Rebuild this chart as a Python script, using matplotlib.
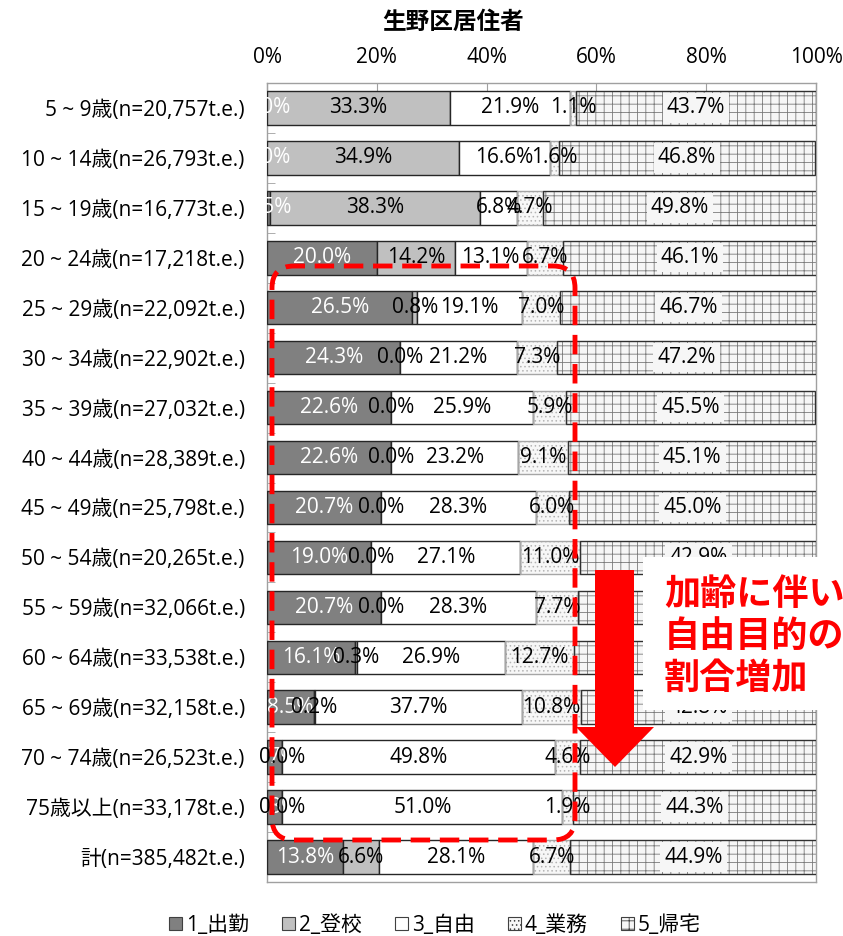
import matplotlib
matplotlib.use("Agg")
import matplotlib.pyplot as plt
import numpy as np
from matplotlib.patches import Patch, FancyBboxPatch, Polygon, Rectangle

plt.rcParams['font.family'] = ['Open Sans', 'Noto Sans CJK JP', 'DejaVu Sans']
plt.rcParams['hatch.linewidth'] = 0.6

categories = ["5 ~ 9歳(n=20,757t.e.)", "10 ~ 14歳(n=26,793t.e.)", "15 ~ 19歳(n=16,773t.e.)",
              "20 ~ 24歳(n=17,218t.e.)", "25 ~ 29歳(n=22,092t.e.)", "30 ~ 34歳(n=22,902t.e.)",
              "35 ~ 39歳(n=27,032t.e.)", "40 ~ 44歳(n=28,389t.e.)", "45 ~ 49歳(n=25,798t.e.)",
              "50 ~ 54歳(n=20,265t.e.)", "55 ~ 59歳(n=32,066t.e.)", "60 ~ 64歳(n=33,538t.e.)",
              "65 ~ 69歳(n=32,158t.e.)", "70 ~ 74歳(n=26,523t.e.)", "75歳以上(n=33,178t.e.)",
              "計(n=385,482t.e.)"]
series_names = ["1_出勤", "2_登校", "3_自由", "4_業務", "5_帰宅"]
shukkin = [0.0, 0.0, 0.5, 20.0, 26.5, 24.3, 22.6, 22.6, 20.7, 19.0, 20.7, 16.1, 8.5, 2.7, 2.8, 13.8]
toukou = [33.3, 34.9, 38.3, 14.2, 0.8, 0.0, 0.0, 0.0, 0.0, 0.0, 0.0, 0.3, 0.2, 0.0, 0.0, 6.6]
jiyuu = [21.9, 16.6, 6.8, 13.1, 19.1, 21.2, 25.9, 23.2, 28.3, 27.1, 28.3, 26.9, 37.7, 49.8, 51.0, 28.1]
gyoumu = [1.1, 1.6, 4.7, 6.7, 7.0, 7.3, 5.9, 9.1, 6.0, 11.0, 7.7, 12.7, 10.8, 4.6, 1.9, 6.7]
kitaku = [43.7, 46.8, 49.8, 46.1, 46.7, 47.2, 45.5, 45.1, 45.0, 42.9, 43.3, 44.0, 42.8, 42.9, 44.3, 44.9]
xticks = [0, 20, 40, 60, 80, 100]
title = "生野区居住者"
note_lines = ["加齢に伴い", "自由目的の", "割合増加"]

W, H = 843, 936
fig = plt.figure(figsize=(W / 100, H / 100), dpi=100)
ax = fig.add_axes([267 / W, 1 - 882 / H, (816 - 267) / W, (882 - 83) / H])

series = [shukkin, toukou, jiyuu, gyoumu, kitaku]
styles = [
    dict(fc="#808080", hatch=None, hc=None, ec="#262626"),
    dict(fc="#c0c0c0", hatch=None, hc=None, ec="#262626"),
    dict(fc="#ffffff", hatch=None, hc=None, ec="#262626"),
    dict(fc="#f7f7f7", hatch="....", hc="#b4b4b4", ec="#a6a6a6"),
    dict(fc="#f6f6f6", hatch="++", hc="#7a7a7a", ec="#303030"),
]
label_colors = ["white", "black", "black", "black", "black"]
FS = 15

y = np.arange(len(categories))
left = np.zeros(len(categories))
bh = 0.67
for vals, st, lc in zip(series, styles, label_colors):
    vals = np.array(vals)
    if st["hatch"]:
        ax.barh(y, vals, left=left, height=bh, color=st["fc"], hatch=st["hatch"],
                edgecolor=st["hc"], linewidth=0, zorder=2)
        ax.barh(y, vals, left=left, height=bh, fill=False, edgecolor=st["ec"],
                linewidth=1.0, zorder=3)
    else:
        ax.barh(y, vals, left=left, height=bh, color=st["fc"], edgecolor=st["ec"],
                linewidth=1.0, zorder=3)
    for yi, (l, v) in enumerate(zip(left, vals)):
        kw = {}
        if st["hatch"] == "++":
            kw["bbox"] = dict(facecolor="#f6f6f6", edgecolor="none", pad=3)
        ax.text(l + v / 2, yi, f"{v:.1f}%", ha="center", va="center", color=lc,
                fontsize=FS, zorder=5, **kw)
    left = left + vals

ax.set_xlim(0, 100)
ax.set_ylim(len(categories) - 0.5, -0.5)
ax.xaxis.tick_top()
ax.set_xticks(xticks)
ax.set_xticklabels([f"{t}%" for t in xticks], fontsize=FS)
ax.tick_params(axis="x", direction="in", length=6, color="#a0a0a0", pad=11)
ax.set_yticks(y)
ax.set_yticklabels(categories, fontsize=FS)
ax.tick_params(axis="y", which="major", length=0, pad=16)
ax.set_yticks(np.arange(len(categories) + 1) - 0.5, minor=True)
ax.tick_params(axis="y", which="minor", direction="in", length=6, color="#a0a0a0")
for s in ax.spines.values():
    s.set_color("#a0a0a0")
    s.set_linewidth(1.0)

fig.text(453 / W, 1 - 22 / H, title, ha="center", va="center", fontsize=17,
         fontweight="bold", family=["Noto Sans CJK JP", "DejaVu Sans"])

handles = [Patch(facecolor=st["fc"], edgecolor="#404040", hatch=st["hatch"], linewidth=0.8)
           for st in styles]
fig.legend(handles, series_names, loc="center", bbox_to_anchor=(435 / W, 1 - 925 / H),
           ncol=5, frameon=False, fontsize=FS, handlelength=0.6, handleheight=0.6,
           handletextpad=0.2, columnspacing=1.6)

tr = fig.dpi_scale_trans
def px(xp, yp):
    return (xp / 100, (H - yp) / 100)

# dashed rounded rectangle
x0, y0 = px(272, 840)
x1, y1 = px(575, 266)
rect = FancyBboxPatch((x0, y0), x1 - x0, y1 - y0, boxstyle="round,pad=0,rounding_size=0.22",
                      transform=tr, fill=False, edgecolor="#ff0000", linewidth=3.5,
                      linestyle=(0, (4, 2)), zorder=10)
fig.patches.append(rect)

# arrow
arrow_pts = [px(595, 570), px(634, 570), px(634, 727), px(654, 727), px(615, 767),
             px(576, 727), px(595, 727)]
fig.patches.append(Polygon(arrow_pts, closed=True, transform=tr, facecolor="#ff0000",
                           edgecolor="none", zorder=11))

# white text box
bx0, by0 = px(643, 710)
bx1, by1 = px(843, 557)
fig.patches.append(Rectangle((bx0, by0), bx1 - bx0, by1 - by0, transform=tr,
                             facecolor="white", edgecolor="none", zorder=11))
for i, line in enumerate(note_lines):
    tx, ty = px(664, 594 + 42 * i)
    fig.text(tx, ty, line, transform=tr, ha="left", va="center", color="#ff0000",
             fontsize=26, fontweight="bold", zorder=12,
             family=["Noto Sans CJK JP", "DejaVu Sans"])

fig.savefig("out.png", dpi=100)
